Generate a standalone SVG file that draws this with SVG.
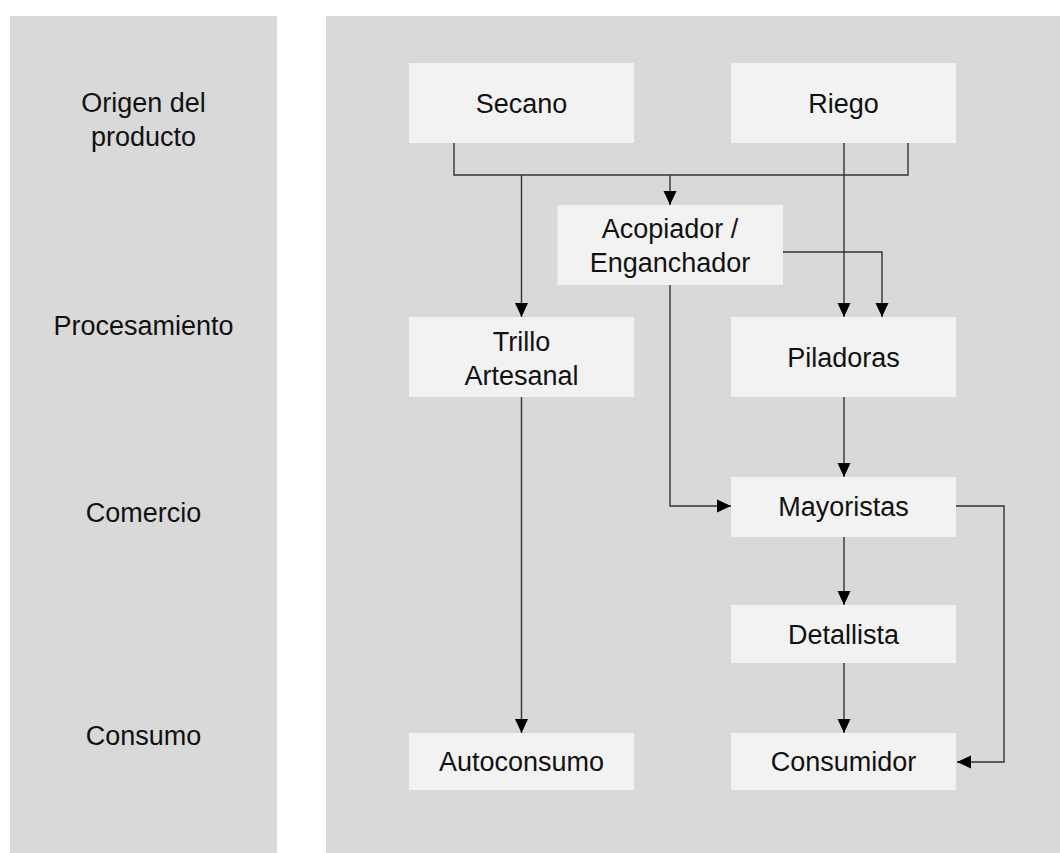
<svg xmlns="http://www.w3.org/2000/svg" width="1060" height="853" viewBox="0 0 1060 853">
<style>
.panel{fill:#d9d9d9}
.box{fill:#f2f2f2}
.t{font-family:"Liberation Sans",Arial,sans-serif;font-size:27px;fill:#111;text-anchor:middle}
.c{fill:none;stroke:#333;stroke-width:1.4}
</style>
<defs>
<marker id="ah" markerUnits="userSpaceOnUse" markerWidth="14" markerHeight="14" refX="14" refY="6.5" orient="auto" viewBox="0 0 14 13">
<path d="M0,0 L14,6.5 L0,13 z" fill="#000"/>
</marker>
</defs>
<rect width="1060" height="853" fill="#fff"/>
<g id="lanes">
<rect class="panel" x="10" y="16" width="267" height="837"/>
<rect class="panel" x="326" y="16" width="734" height="837"/>
<text class="t" x="143.5" y="112">Origen del</text>
<text class="t" x="143.5" y="146">producto</text>
<text class="t" x="143.5" y="335">Procesamiento</text>
<text class="t" x="143.5" y="521.5">Comercio</text>
<text class="t" x="143.5" y="745">Consumo</text>
</g>
<g id="connectors">
<polyline class="c" points="454,143 454,175 908,175 908,143"/>
<line class="c" x1="670" y1="175" x2="670" y2="205" marker-end="url(#ah)"/>
<line class="c" x1="521.5" y1="175" x2="521.5" y2="317" marker-end="url(#ah)"/>
<line class="c" x1="844" y1="143" x2="844" y2="317" marker-end="url(#ah)"/>
<polyline class="c" points="783,252 882,252 882,317" marker-end="url(#ah)"/>
<polyline class="c" points="670,285 670,506 731,506" marker-end="url(#ah)"/>
<line class="c" x1="844" y1="397" x2="844" y2="477" marker-end="url(#ah)"/>
<line class="c" x1="844" y1="537" x2="844" y2="605" marker-end="url(#ah)"/>
<line class="c" x1="844" y1="663" x2="844" y2="733" marker-end="url(#ah)"/>
<polyline class="c" points="956,506 1004,506 1004,762 957,762" marker-end="url(#ah)"/>
<line class="c" x1="521.5" y1="397" x2="521.5" y2="733" marker-end="url(#ah)"/>
</g>
<g id="secano"><rect class="box" x="409" y="63" width="225" height="80"/><text class="t" x="521.5" y="112.5">Secano</text></g>
<g id="riego"><rect class="box" x="731" y="63" width="225" height="80"/><text class="t" x="843.5" y="112.5">Riego</text></g>
<g id="acopiador"><rect class="box" x="557.5" y="205" width="225.5" height="80"/><text class="t" x="670" y="237.5">Acopiador /</text><text class="t" x="670" y="271.5">Enganchador</text></g>
<g id="trillo"><rect class="box" x="409" y="317" width="225" height="80"/><text class="t" x="521.5" y="350.5">Trillo</text><text class="t" x="521.5" y="384.5">Artesanal</text></g>
<g id="piladoras"><rect class="box" x="731" y="317" width="225" height="80"/><text class="t" x="843.5" y="367">Piladoras</text></g>
<g id="mayoristas"><rect class="box" x="731" y="477" width="225" height="60"/><text class="t" x="843.5" y="516">Mayoristas</text></g>
<g id="detallista"><rect class="box" x="731" y="605" width="225" height="58"/><text class="t" x="843.5" y="644">Detallista</text></g>
<g id="autoconsumo"><rect class="box" x="409" y="733" width="225" height="57"/><text class="t" x="521.5" y="771">Autoconsumo</text></g>
<g id="consumidor"><rect class="box" x="731" y="733" width="225" height="57"/><text class="t" x="843.5" y="771">Consumidor</text></g>
</svg>
